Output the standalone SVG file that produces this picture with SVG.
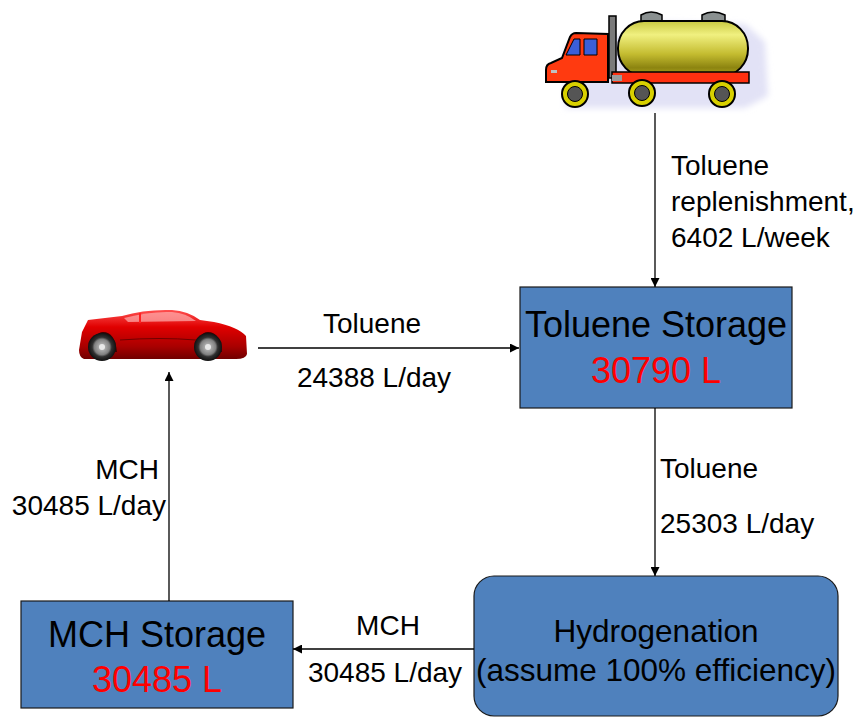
<svg xmlns="http://www.w3.org/2000/svg" width="857" height="717" viewBox="0 0 857 717">
  <style>
    .box { fill: #4F81BD; stroke: #1a1a1a; stroke-width: 1.2; }
    .title { font-family: "Liberation Sans", Arial, sans-serif; font-size: 36px; fill: #000; text-anchor: middle; }
    .qty { font-family: "Liberation Sans", Arial, sans-serif; font-size: 36px; fill: #FF0000; text-anchor: middle; }
    .proc { font-family: "Liberation Sans", Arial, sans-serif; font-size: 31.5px; fill: #000; text-anchor: middle; }
    .lbl { font-family: "Liberation Sans", Arial, sans-serif; font-size: 28px; fill: #000; }
    .flow { stroke: #000; stroke-width: 1.3; fill: none; marker-end: url(#head); }
  </style>
  <defs>
    <marker id="head" viewBox="0 0 10 10" refX="10" refY="5" markerWidth="9" markerHeight="9" markerUnits="userSpaceOnUse" orient="auto">
      <path d="M0,0 L10,5 L0,10 Z" fill="#000"/>
    </marker>
    <linearGradient id="tankFill" x1="0" y1="0" x2="0" y2="1">
      <stop offset="0" stop-color="#c8c840"/>
      <stop offset="0.25" stop-color="#f0f080"/>
      <stop offset="0.6" stop-color="#c4bc30"/>
      <stop offset="0.85" stop-color="#8c8410"/>
      <stop offset="1" stop-color="#b0a820"/>
    </linearGradient>
    <linearGradient id="carFill" x1="0" y1="0" x2="0" y2="1">
      <stop offset="0" stop-color="#ff5050"/>
      <stop offset="0.35" stop-color="#e00000"/>
      <stop offset="0.75" stop-color="#a80000"/>
      <stop offset="1" stop-color="#700000"/>
    </linearGradient>
    <radialGradient id="tyre" cx="0.5" cy="0.5" r="0.5">
      <stop offset="0" stop-color="#c8c8c8"/>
      <stop offset="0.55" stop-color="#808080"/>
      <stop offset="0.7" stop-color="#303030"/>
      <stop offset="1" stop-color="#101010"/>
    </radialGradient>
    <filter id="soft" x="-10%" y="-20%" width="120%" height="140%">
      <feGaussianBlur stdDeviation="3"/>
    </filter>
  </defs>

  <!-- tanker truck -->
  <g id="truck">
    <path d="M565,45 L620,36 L660,22 L745,24 L765,42 L768,96 L745,108 L565,108 Z" fill="#e2e2f6" filter="url(#soft)"/>
    <!-- domes -->
    <path d="M641,23 L641,15 Q651,9 662,15 L662,23 Z" fill="#8a9090" stroke="#000" stroke-width="1.5"/>
    <path d="M702,23 L702,15 Q713,9 725,15 L725,23 Z" fill="#8a9090" stroke="#000" stroke-width="1.5"/>
    <!-- tank -->
    <rect x="618" y="21" width="130" height="55" rx="26" ry="27" fill="url(#tankFill)" stroke="#000" stroke-width="2"/>
    <!-- exhaust -->
    <rect x="609" y="16" width="7" height="62" fill="#7a7a7a" stroke="#000" stroke-width="1.5"/>
    <!-- chassis -->
    <rect x="612" y="72" width="137" height="11" fill="#ff3010" stroke="#000" stroke-width="1.5"/>
    <rect x="612" y="75" width="10" height="6" fill="#9a9a9a"/>
    <!-- cab -->
    <path d="M608,82 L608,34 L576,33 Q572,33 570,37 L562,58 L551,63 Q546,64 546,70 L546,82 Z" fill="#ff3a10" stroke="#000" stroke-width="2"/>
    <path d="M574,39 L580,39 L580,55 L566,55 Z" fill="#3b5fd8" stroke="#000" stroke-width="1"/>
    <path d="M584,39 L597,39 L597,55 L584,55 Z" fill="#3b5fd8" stroke="#000" stroke-width="1"/>
    <rect x="551" y="70" width="6" height="3" fill="#c0c0c0"/>
    <!-- wheels -->
    <circle cx="575" cy="94" r="13" fill="#d8d000" stroke="#000" stroke-width="2"/>
    <circle cx="575" cy="94" r="7.5" fill="#555" stroke="#000" stroke-width="1"/>
    <circle cx="642" cy="93" r="13" fill="#d8d000" stroke="#000" stroke-width="2"/>
    <circle cx="642" cy="93" r="7.5" fill="#555" stroke="#000" stroke-width="1"/>
    <circle cx="722" cy="94" r="13" fill="#d8d000" stroke="#000" stroke-width="2"/>
    <circle cx="722" cy="94" r="7.5" fill="#555" stroke="#000" stroke-width="1"/>
  </g>

  <!-- sports car -->
  <g id="car">
    <path d="M82,332 L88,320 L122,316 Q145,309 172,310 Q188,311 200,320 L214,322 Q238,327 246,336 L247,354 Q246,359 236,359 L84,359 Q79,357 79,350 Z" fill="url(#carFill)"/>
    <path d="M124,318 Q150,311 172,312 Q186,313 196,321 L128,322 Z" fill="#ffb0b0" opacity="0.7"/>
    <rect x="139" y="313" width="2" height="10" fill="#ff2020"/>
    <path d="M92,352 Q94,332 103,332 Q115,332 117,352 Z" fill="#3a0000"/>
    <path d="M196,352 Q198,332 208,332 Q220,332 222,352 Z" fill="#3a0000"/>
    <circle cx="102" cy="347" r="14" fill="url(#tyre)"/>
    <circle cx="102" cy="347" r="3" fill="#e8e8e8"/>
    <circle cx="208" cy="347" r="14" fill="url(#tyre)"/>
    <circle cx="208" cy="347" r="3" fill="#e8e8e8"/>
    <path d="M120,340 Q160,337 196,340" stroke="#700000" stroke-width="1" fill="none"/>
  </g>

  <!-- process blocks -->
  <g id="toluene-storage">
    <rect class="box" x="520" y="287" width="272" height="121"/>
    <text class="title" x="656" y="337">Toluene Storage</text>
    <text class="qty" x="656" y="383">30790 L</text>
  </g>

  <g id="hydrogenation">
    <rect class="box" x="474" y="576" width="364" height="140" rx="20" ry="20"/>
    <text class="proc" x="656" y="642">Hydrogenation</text>
    <text class="proc" x="656" y="681">(assume 100% efficiency)</text>
  </g>

  <g id="mch-storage">
    <rect class="box" x="21" y="601" width="272" height="107"/>
    <text class="title" x="157" y="647">MCH Storage</text>
    <text class="qty" x="157" y="692">30485 L</text>
  </g>

  <!-- flows -->
  <g id="connectors">
    <line class="flow" x1="655" y1="113" x2="655" y2="287"/>
    <line class="flow" x1="258" y1="348" x2="519" y2="348"/>
    <line class="flow" x1="655" y1="408" x2="655" y2="576"/>
    <line class="flow" x1="474" y1="649" x2="293" y2="649"/>
    <line class="flow" x1="169" y1="601" x2="169" y2="372"/>
  </g>

  <g id="flow-labels">
    <text class="lbl" x="671" y="175">Toluene</text>
    <text class="lbl" x="671" y="211">replenishment,</text>
    <text class="lbl" x="671" y="247">6402 L/week</text>

    <text class="lbl" x="372" y="333" text-anchor="middle">Toluene</text>
    <text class="lbl" x="374" y="387" text-anchor="middle">24388 L/day</text>

    <text class="lbl" x="660" y="478">Toluene</text>
    <text class="lbl" x="660" y="533">25303 L/day</text>

    <text class="lbl" x="159" y="479" text-anchor="end">MCH</text>
    <text class="lbl" x="166" y="515" text-anchor="end">30485 L/day</text>

    <text class="lbl" x="388" y="635" text-anchor="middle">MCH</text>
    <text class="lbl" x="385" y="682" text-anchor="middle">30485 L/day</text>
  </g>
</svg>
